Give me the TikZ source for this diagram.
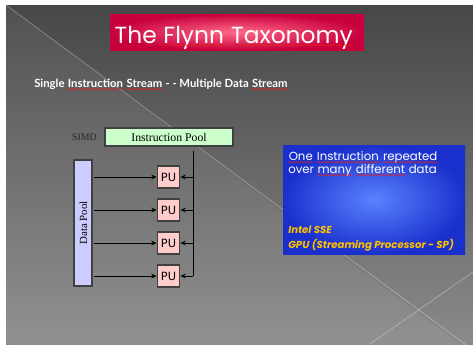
\documentclass[tikz,border=0pt]{standalone}
\usepackage{fontspec}
\setmainfont{Liberation Serif}
\newfontfamily\gothic{Poppins}
\newfontfamily\subfont{Lato}
\newfontfamily\pufont{DejaVu Sans}
\usetikzlibrary{arrows.meta,decorations.pathmorphing}
\definecolor{slidetop}{HTML}{474747}
\definecolor{slidebot}{HTML}{8A8A8A}
\definecolor{titlein}{HTML}{FF6A88}
\definecolor{titleout}{HTML}{C8003C}
\definecolor{bluein}{HTML}{5A82FF}
\definecolor{blueout}{HTML}{1A30CC}
\definecolor{ipfill}{HTML}{CCFFCC}
\definecolor{dpfill}{HTML}{CCCCFF}
\definecolor{pufill}{HTML}{FFCCCC}
\definecolor{boxline}{HTML}{404040}
\definecolor{ssecol}{HTML}{FFC000}
\definecolor{spell}{HTML}{E02020}
\newcommand{\sq}[1]{\tikz[baseline=(w.base),x=1pt,y=1pt]{\node[inner sep=0pt,text=white](w){#1};\draw[spell,line width=0.35pt,decorate,decoration={snake,amplitude=0.45pt,segment length=1.8pt}]([yshift=-1.6pt]w.base west)--([yshift=-1.6pt]w.base east);}}
\tikzset{
  pubox/.style={draw=boxline, fill=pufill, line width=0.9pt, minimum width=17pt, minimum height=16.5pt, inner sep=0pt, font=\pufont\fontsize{8.5pt}{10pt}\selectfont},
  pool/.style={draw=boxline, line width=0.9pt, inner sep=0pt, font=\fontsize{8.8pt}{10pt}\selectfont},
  conn/.style={black, line width=0.6pt, -{Stealth[length=4pt,width=3.6pt]}},
  bar/.style={black, line width=0.7pt},
  deco/.style={white, opacity=0.35, line width=0.5pt}
}
\begin{document}
\begin{tikzpicture}[x=0.75pt,y=-0.75pt]
\useasboundingbox (0,0) rectangle (473,344);
\fill[white] (0,0) rectangle (473,344);
\shade[top color=slidetop, bottom color=slidebot] (6,5) rectangle (473,344);
\fill[white, opacity=0.06] (6,5) -- (473,354) -- (6,344) -- cycle;
\draw[deco] (6,5) -- (473,350);
\draw[deco] (473,272) -- (370,344);
% title
\shade[inner color=titlein, outer color=titleout] (110,14) rectangle (364,50);
\node[text=white, font=\gothic\fontsize{17.5pt}{20pt}\selectfont, inner sep=0pt, anchor=base] (title) at (234,43) {The \sq{Flynn} \sq{Taxonomy}};
% subtitle
\node[text=white, font=\subfont\bfseries\fontsize{8.5pt}{10pt}\selectfont, inner sep=0pt, anchor=base west] (sub) at (34,87) {Single \sq{Instruction} \sq{Stream} - - Multiple Data \sq{Stream}};
% diagram
\node[font=\fontsize{7.4pt}{8pt}\selectfont, text=black!85, inner sep=0pt] (simd) at (84.5,137) {SIMD};
\node[pool, fill=ipfill, minimum width=96pt, minimum height=13.5pt] (ip) at (169,137) {Instruction Pool};
\node[pool, fill=dpfill, minimum width=13.5pt, minimum height=94.5pt] (dp) at (83,223) {};
\node[font=\fontsize{8.2pt}{9pt}\selectfont, rotate=90, inner sep=0pt] (dpl) at (83.5,223) {Data Pool};
\node[pubox] (pu1) at (168.5,177) {PU};
\node[pubox] (pu2) at (168.5,210) {PU};
\node[pubox] (pu3) at (168.5,243) {PU};
\node[pubox] (pu4) at (168.5,276) {PU};
\coordinate (vt) at (193,151);
\coordinate (vb) at (193,276);
\draw[bar] (vt) -- (vb);
\foreach \i in {1,2,3,4}{
  \draw[conn] (dp.east |- pu\i.west) ++(1.5,0) -- (pu\i.west);
  \draw[conn] (vt |- pu\i.east) -- (pu\i.east);
}
% blue box
\shade[inner color=bluein, outer color=blueout] (283,145) rectangle (465,254);
\node[text=white, font=\gothic\fontsize{8.8pt}{10pt}\selectfont, inner sep=0pt, anchor=base west, align=left] (desc1) at (288,160) {\sq{One} \sq{Instruction} \sq{repeated}};
\node[text=white, font=\gothic\fontsize{8.8pt}{10pt}\selectfont, inner sep=0pt, anchor=base west, align=left] (desc2) at (288,173) {over \sq{many} \sq{different} data};
\node[text=ssecol, font=\gothic\bfseries\itshape\fontsize{7.6pt}{10pt}\selectfont, inner sep=0pt, anchor=base west] (ex1) at (288,233) {Intel SSE};
\node[text=ssecol, font=\gothic\bfseries\itshape\fontsize{7.6pt}{10pt}\selectfont, inner sep=0pt, anchor=base west] (ex2) at (288,248) {GPU (Streaming Processor - SP)};
\end{tikzpicture}
\end{document}
